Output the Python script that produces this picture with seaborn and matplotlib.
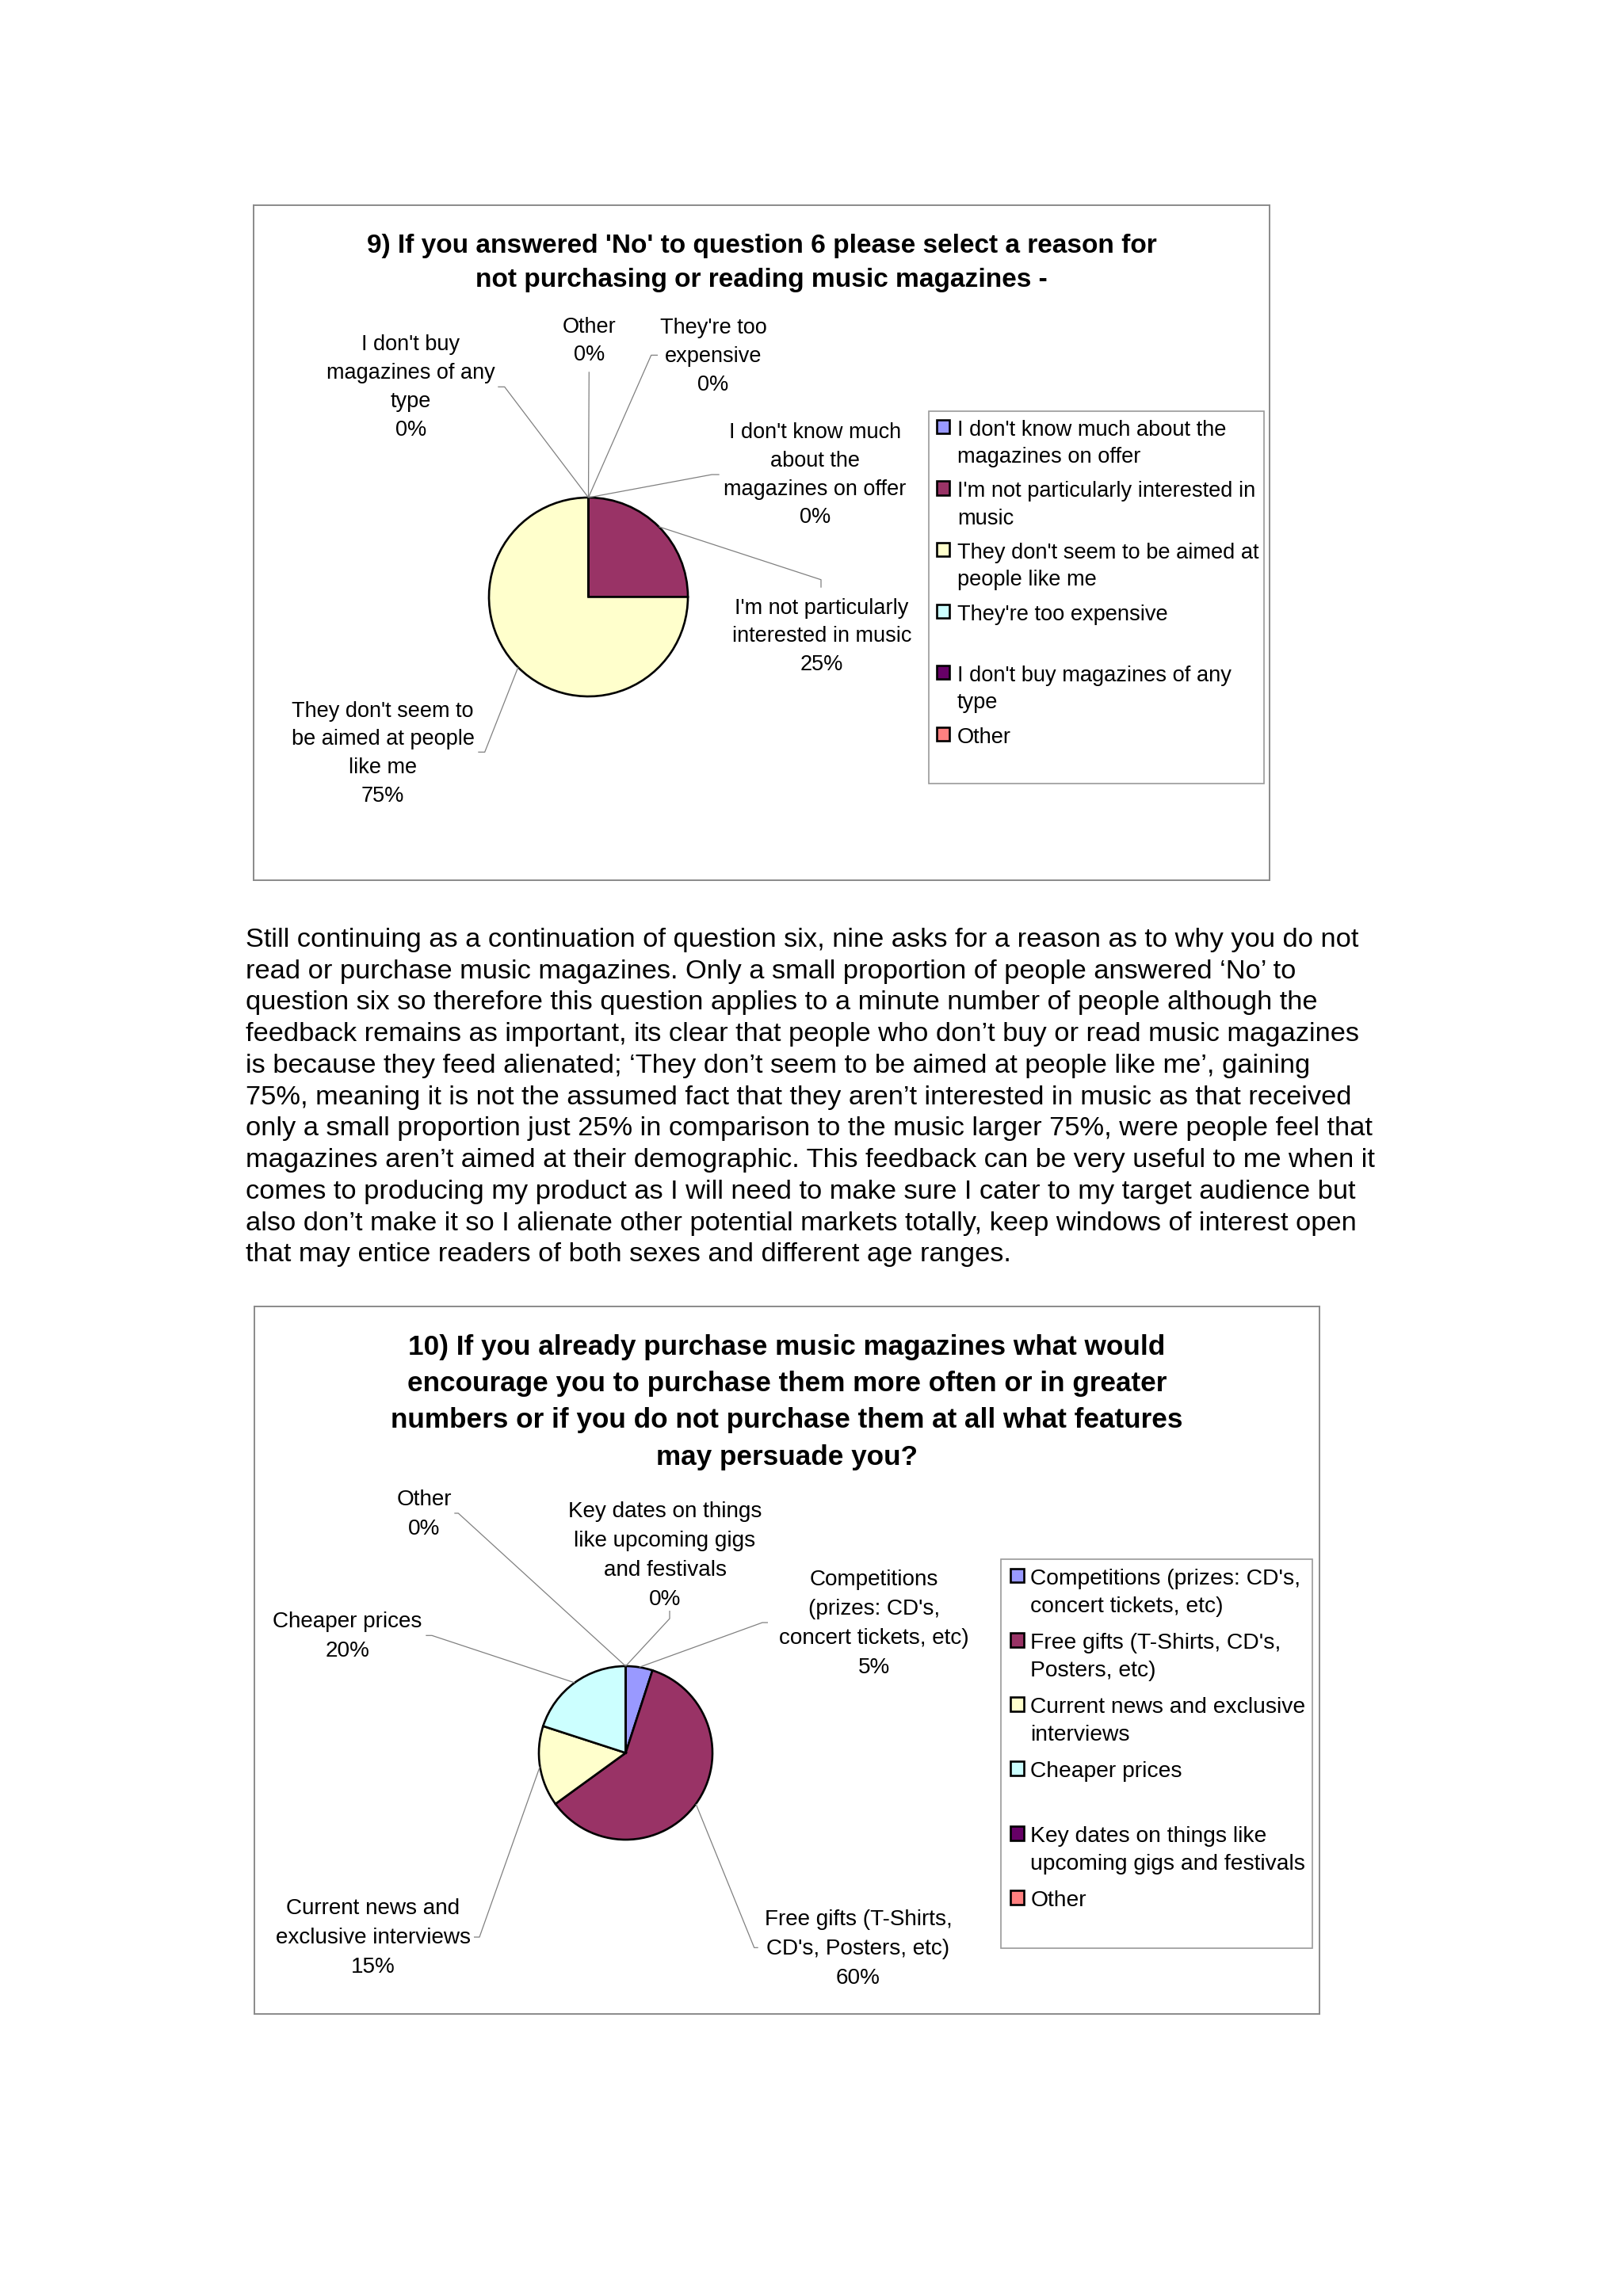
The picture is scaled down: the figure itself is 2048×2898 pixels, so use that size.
import numpy as np
import matplotlib
matplotlib.use("Agg")
import matplotlib.pyplot as plt
import seaborn as sns

# ---------------- data ----------------
Q9_TITLE = ["9) If you answered 'No' to question 6 please select a reason for",
            "not purchasing or reading music magazines -"]
Q9_CATEGORIES = ["I don't know much about the magazines on offer",
                 "I'm not particularly interested in music",
                 "They don't seem to be aimed at people like me",
                 "They're too expensive",
                 "I don't buy magazines of any type",
                 "Other"]
Q9_PERCENT = [0, 25, 75, 0, 0, 0]
Q9_SLICE_LABELS = ["I don't know much\nabout the\nmagazines on offer",
                   "I'm not particularly\ninterested in music",
                   "They don't seem to\nbe aimed at people\nlike me",
                   "They're too\nexpensive",
                   "I don't buy\nmagazines of any\ntype",
                   "Other"]
Q9_LEGEND_LABELS = ["I don't know much about the\nmagazines on offer",
                    "I'm not particularly interested in\nmusic",
                    "They don't seem to be aimed at\npeople like me",
                    "They're too expensive",
                    "I don't buy magazines of any\ntype",
                    "Other"]

Q10_TITLE = ["10) If you already purchase music magazines what would",
             "encourage you to purchase them more often or in greater",
             "numbers or if you do not purchase them at all what features",
             "may persuade you?"]
Q10_CATEGORIES = ["Competitions (prizes: CD's, concert tickets, etc)",
                  "Free gifts (T-Shirts, CD's, Posters, etc)",
                  "Current news and exclusive interviews",
                  "Cheaper prices",
                  "Key dates on things like upcoming gigs and festivals",
                  "Other"]
Q10_PERCENT = [5, 60, 15, 20, 0, 0]
Q10_SLICE_LABELS = ["Competitions\n(prizes: CD's,\nconcert tickets, etc)",
                    "Free gifts (T-Shirts,\nCD's, Posters, etc)",
                    "Current news and\nexclusive interviews",
                    "Cheaper prices",
                    "Key dates on things\nlike upcoming gigs\nand festivals",
                    "Other"]
Q10_LEGEND_LABELS = ["Competitions (prizes: CD's,\nconcert tickets, etc)",
                     "Free gifts (T-Shirts, CD's,\nPosters, etc)",
                     "Current news and exclusive\ninterviews",
                     "Cheaper prices",
                     "Key dates on things like\nupcoming gigs and festivals",
                     "Other"]

BODY_LINES = [
    "Still continuing as a continuation of question six, nine asks for a reason as to why you do not",
    "read or purchase music magazines. Only a small proportion of people answered \u2018No\u2019 to",
    "question six so therefore this question applies to a minute number of people although the",
    "feedback remains as important, its clear that people who don\u2019t buy or read music magazines",
    "is because they feed alienated; \u2018They don\u2019t seem to be aimed at people like me\u2019, gaining",
    "75%, meaning it is not the assumed fact that they aren\u2019t interested in music as that received",
    "only a small proportion just 25% in comparison to the music larger 75%, were people feel that",
    "magazines aren\u2019t aimed at their demographic. This feedback can be very useful to me when it",
    "comes to producing my product as I will need to make sure I cater to my target audience but",
    "also don\u2019t make it so I alienate other potential markets totally, keep windows of interest open",
    "that may entice readers of both sexes and different age ranges.",
]

PALETTE_HEX = ["#9999FF", "#993366", "#FFFFCC", "#CCFFFF", "#660066", "#FF8080"]

# ---------------- layout (pixels, y measured downward) ----------------
W, H = 2048, 2898

LAYOUT9 = dict(
    frame=(320, 259, 1602, 1111),
    title_x=961, title_y0=306.7, title_pitch=43.3, title_size=24.1,
    center=(742.5, 753.5), radius=125.5,
    lab_x=[1028.3, 1036.7, 483.0, 900.0, 518.3, 744.0],
    lab_y0=[543.3, 765.0, 895.0, 411.7, 432.7, 410.0],
    lab_pitch=35.8, lab_size=19.5,
    leaders=[[(898.3, 599.0), (907.7, 599.0)],
             [(1036.0, 731.7), (1036.0, 741.7)],
             [(611.7, 949.3), (603.3, 949.3)],
             [(821.7, 448.3), (830.0, 448.3)],
             [(636.7, 488.3), (628.3, 488.3)],
             [(743.3, 469.3)]],
    legend_box=(1171.5, 519.0, 423.5),
    legend_fs=19.6,
    legend_kw=dict(borderpad=0.40, handlelength=0.59, handleheight=0.59,
                   handletextpad=0.34, labelspacing=0.63),
    legend_ls=1.42,
)

LAYOUT10 = dict(
    frame=(321, 1649, 1665, 2542),
    title_x=993, title_y0=1697.0, title_pitch=46.4, title_size=25.3,
    center=(789.5, 2212.5), radius=109.5,
    lab_x=[1103.0, 1083.0, 471.0, 438.3, 839.0, 535.3],
    lab_y0=[1991.0, 2420.0, 2406.0, 2044.3, 1905.0, 1890.0],
    lab_pitch=37.0, lab_size=20.1,
    leaders=[[(962.0, 2048.0), (969.0, 2048.0)],
             [(951.7, 2458.3), (956.7, 2458.3)],
             [(605.0, 2445.0), (598.0, 2445.0)],
             [(545.0, 2064.3), (537.3, 2064.3)],
             [(845.0, 2043.0), (845.0, 2033.0)],
             [(578.3, 1910.0), (573.3, 1910.0)]],
    legend_box=(1263.3, 1968.0, 392.7),
    legend_fs=20.3,
    legend_kw=dict(borderpad=0.41, handlelength=0.6, handleheight=0.6,
                   handletextpad=0.30, labelspacing=0.72),
    legend_ls=1.45,
)

BODY_X, BODY_Y0, BODY_PITCH, BODY_SIZE = 310.5, 1182.7, 39.73, 24.75

# ---------------- style ----------------
sns.set_theme(style="white")
plt.rcParams['font.family'] = ['Liberation Sans', 'DejaVu Sans']
colors = sns.color_palette(PALETTE_HEX)

fig = plt.figure(figsize=(W / 100, H / 100), dpi=100)
fig.patch.set_facecolor("white")


def text_block(ax, x, y0, lines, pitch, size, weight="normal"):
    em = size * 100 / 72.0
    for i, ln in enumerate(lines):
        yb = y0 + i * pitch + 0.358 * em
        ax.text(x, H - yb, ln, ha="center", va="baseline", fontsize=size,
                fontweight=weight, color="black", clip_on=False)


def pie_chart(title, percents, slice_labels, legend_labels, L):
    x0, y0, x1, y1 = L["frame"]
    ax = fig.add_axes([x0 / W, (H - y1) / H, (x1 - x0) / W, (y1 - y0) / H])
    cx, cy = L["center"]
    wedges, _ = ax.pie(percents, colors=colors, startangle=90, counterclock=False,
                       center=(cx, H - cy), radius=L["radius"], frame=True,
                       wedgeprops=dict(edgecolor="black", linewidth=1.9))
    ax.set_aspect("auto")
    ax.set_xlim(x0, x1)
    ax.set_ylim(H - y1, H - y0)
    ax.set_xticks([])
    ax.set_yticks([])
    for sp in ax.spines.values():
        sp.set_color("#8a8a8a")
        sp.set_linewidth(1.4)

    text_block(ax, L["title_x"], L["title_y0"], title, L["title_pitch"],
               L["title_size"], weight="bold")

    for i, w in enumerate(wedges):
        mid = np.deg2rad(0.5 * (w.theta1 + w.theta2))
        sx = w.center[0] + w.r * np.cos(mid)
        sy = w.center[1] + w.r * np.sin(mid)
        pts = [(sx, sy)] + [(px, H - py) for px, py in L["leaders"][i]]
        ax.plot([p[0] for p in pts], [p[1] for p in pts], color="#808080",
                linewidth=0.9, solid_capstyle="butt", clip_on=False, zorder=1)
        lines = slice_labels[i].split("\n") + [f"{percents[i]:.0f}%"]
        text_block(ax, L["lab_x"][i], L["lab_y0"][i], lines, L["lab_pitch"],
                   L["lab_size"])

    bx, btop, bw = L["legend_box"]
    labs = [lab if "\n" in lab else lab + "\n " for lab in legend_labels]
    leg = ax.legend(wedges, labs, loc="upper left",
                    bbox_to_anchor=(bx, H - btop, bw, 0),
                    bbox_transform=ax.transData, mode="expand",
                    borderaxespad=0, fontsize=L["legend_fs"], frameon=True,
                    fancybox=False, shadow=False, framealpha=1,
                    edgecolor="#9a9a9a", **L["legend_kw"])
    leg.get_frame().set_linewidth(1.2)
    for t in leg.get_texts():
        t.set_linespacing(L["legend_ls"])
        t.set_color("black")
    for col in leg._legend_handle_box.get_children():
        for row in col.get_children():
            row.align = "top"
    return ax


pie_chart(Q9_TITLE, Q9_PERCENT, Q9_SLICE_LABELS, Q9_LEGEND_LABELS, LAYOUT9)
pie_chart(Q10_TITLE, Q10_PERCENT, Q10_SLICE_LABELS, Q10_LEGEND_LABELS, LAYOUT10)

em_body = BODY_SIZE * 100 / 72.0
for i, ln in enumerate(BODY_LINES):
    yb = BODY_Y0 + i * BODY_PITCH + 0.358 * em_body
    fig.text(BODY_X / W, 1 - yb / H, ln, ha="left", va="baseline",
             fontsize=BODY_SIZE, color="black")

fig.savefig("out.png", dpi=100, facecolor="white")
